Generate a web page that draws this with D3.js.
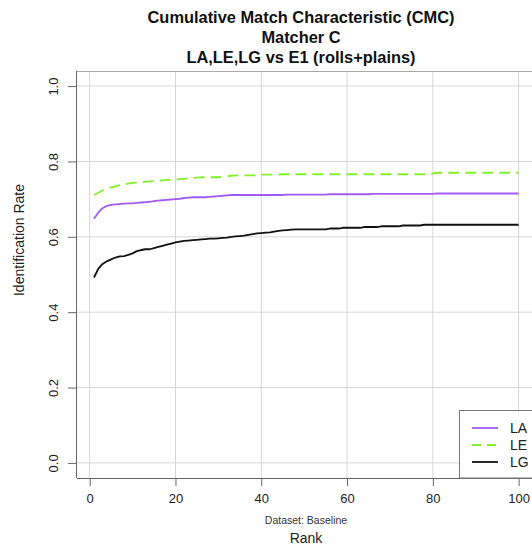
<!DOCTYPE html>
<html><head><meta charset="utf-8">
<script src="https://cdn.jsdelivr.net/npm/d3@7"></script>
<style>body{margin:0;background:#fff;} text{font-family:"Liberation Sans",Arial,sans-serif;}</style>
</head><body><svg id="c" width="532" height="550"></svg>
<script>
const titleLines = ["Cumulative Match Characteristic (CMC)", "Matcher C", "LA,LE,LG vs E1 (rolls+plains)"];
const seriesNames = ["LA", "LE", "LG"];
const xTicks = [0, 20, 40, 60, 80, 100];
const yTicks = [0.0, 0.2, 0.4, 0.6, 0.8, 1.0];
const ranks = d3.range(1, 101);

function rep(v, n){ return Array(n).fill(v); }

const LA = [0.648,0.664,0.676,0.682,0.685,0.686,0.687,0.688,0.689,0.689,
  0.690,0.691,0.692,0.693,0.695,0.696,0.697,0.698,0.699,0.700,
  0.701,0.703,0.704,0.705,0.705,0.705,0.705,0.706,0.707,0.708,
  0.709,0.710,0.711,0.711,0.711,
  ...rep(0.711,10), ...rep(0.712,10), ...rep(0.713,10), ...rep(0.714,15), ...rep(0.715,20)];

const LE = [0.711,0.717,0.723,0.728,0.731,0.734,0.737,0.739,0.741,0.743,
  0.744,0.745,0.746,0.747,0.748,0.749,0.750,0.751,0.751,0.752,
  0.753,0.754,0.755,0.756,0.757,0.758,0.758,0.758,0.758,0.758,
  0.760,0.761,0.762,0.763,0.763,0.763,0.763,0.763,0.763,
  ...rep(0.765,5), ...rep(0.766,35), 0.768, ...rep(0.770,20)];

const LG = [0.492,0.515,0.528,0.535,0.540,0.545,0.548,0.549,0.552,0.556,
  0.562,0.565,0.567,0.567,0.570,0.573,0.576,0.579,0.582,0.585,
  0.587,0.589,0.590,0.591,0.592,0.593,0.594,0.595,0.595,0.596,
  0.597,0.598,0.600,0.601,0.602,0.603,0.605,0.607,0.609,0.610,
  0.611,0.612,0.614,0.616,0.617,0.618,0.619,
  ...rep(0.620,8), ...rep(0.622,3), ...rep(0.624,5), ...rep(0.626,4),
  ...rep(0.628,5), ...rep(0.630,5), ...rep(0.632,23)];

const seriesValues = [LA, LE, LG];
const seriesColors = ["#a35cf2", "#84f02a", "#111111"];
const seriesDash = [null, "11,6", null];

const svg = d3.select("#c");
const L = 77, T = 71, R = 535.6, B = 478;
const x = d3.scaleLinear().domain([-2.96, 103.96]).range([L, R]);
const y = d3.scaleLinear().domain([-0.04, 1.04]).range([B, T]);

// gridlines
const grid = svg.append("g").attr("stroke", "#d6d6d6").attr("stroke-width", 1);
xTicks.forEach(t => grid.append("line").attr("x1", x(t)).attr("x2", x(t)).attr("y1", T).attr("y2", B));
yTicks.forEach(t => grid.append("line").attr("x1", L).attr("x2", R).attr("y1", y(t)).attr("y2", y(t)));

// box top (light)
svg.append("line").attr("x1", L).attr("x2", R).attr("y1", T+0.5).attr("y2", T+0.5).attr("stroke", "#a8a8a8");

// lines
const line = d3.line().x((d,i) => x(ranks[i])).y(d => y(d));
seriesValues.forEach((vals, k) => {
  svg.append("path").datum(vals).attr("d", line)
    .attr("fill", "none").attr("stroke", seriesColors[k]).attr("stroke-width", 1.8)
    .attr("stroke-dasharray", seriesDash[k]).attr("stroke-linejoin", "round");
});

// axes
const xAxis = svg.append("g").attr("transform", `translate(0,${B})`)
  .call(d3.axisBottom(x).tickValues(xTicks).tickSize(8).tickPadding(8).tickFormat(d3.format("d")));
xAxis.select(".domain").remove();
xAxis.append("line").attr("x1", L).attr("x2", R).attr("y1", 0.5).attr("y2", 0.5).attr("stroke", "#666");
xAxis.selectAll(".tick line").attr("stroke", "#666");
xAxis.selectAll(".tick text").attr("font-size", 13).attr("fill", "#222").style("font-family", '"Liberation Sans",Arial,sans-serif');

const yAxis = svg.append("g").attr("transform", `translate(${L},0)`)
  .call(d3.axisLeft(y).tickValues(yTicks).tickSize(9).tickFormat(d3.format(".1f")));
yAxis.select(".domain").remove();
yAxis.append("line").attr("x1", -0.5).attr("x2", -0.5).attr("y1", T).attr("y2", B).attr("stroke", "#666");
yAxis.selectAll(".tick line").attr("stroke", "#666");
yAxis.selectAll(".tick text").attr("font-size", 13).attr("fill", "#222")
  .attr("x", null).attr("dy", null).attr("text-anchor", "middle")
  .attr("transform", "translate(-19.5,0) rotate(-90)")
  .style("font-family", '"Liberation Sans",Arial,sans-serif');

// titles
titleLines.forEach((t, i) => {
  svg.append("text").attr("x", 301).attr("y", 23 + i*20).attr("text-anchor", "middle")
    .attr("font-size", 16.4).attr("font-weight", "bold").attr("fill", "#111").text(t);
});

svg.append("text").attr("x", 306).attr("y", 524).attr("text-anchor", "middle")
  .attr("font-size", 10.5).attr("fill", "#333").text("Dataset: Baseline");
svg.append("text").attr("x", 306).attr("y", 543).attr("text-anchor", "middle")
  .attr("font-size", 14).attr("fill", "#222").text("Rank");
svg.append("text").attr("transform", "translate(24,240) rotate(-90)").attr("text-anchor", "middle")
  .attr("font-size", 14).attr("fill", "#222").text("Identification Rate");

// legend
const lg = svg.append("g");
lg.append("rect").attr("x", 459.5).attr("y", 410.5).attr("width", 90).attr("height", B - 410.5)
  .attr("fill", "#fff").attr("stroke", "#777");
seriesNames.forEach((n, k) => {
  const yy = 428 + k*17;
  lg.append("line").attr("x1", 472).attr("x2", 498).attr("y1", yy).attr("y2", yy)
    .attr("stroke", seriesColors[k]).attr("stroke-width", 1.8).attr("stroke-dasharray", seriesDash[k] ? "9,6" : null);
  lg.append("text").attr("x", 510).attr("y", yy + 5).attr("font-size", 14).attr("fill", "#222").text(n);
});
</script></body></html>
